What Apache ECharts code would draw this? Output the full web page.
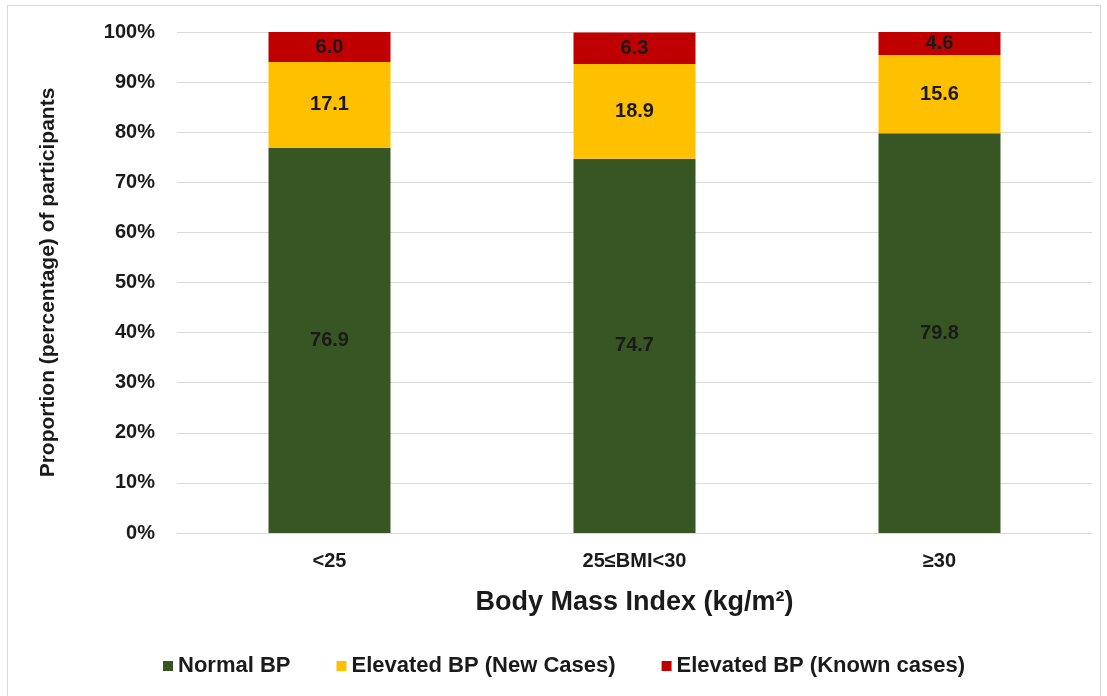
<!DOCTYPE html>
<html>
<head>
<meta charset="utf-8">
<script src="https://cdn.jsdelivr.net/npm/echarts@6/dist/echarts.min.js"></script>
<style>
  html, body { margin: 0; padding: 0; background: #fff; }
  #frame { position: absolute; left: 7px; top: 5px; width: 1094px; height: 700px; border: 1px solid #d9d9d9; box-sizing: border-box; }
  #chart { position: absolute; left: 0; top: 0; width: 1107px; height: 696px; }
</style>
</head>
<body>
<div id="frame"></div>
<div id="chart"></div>
<script>
// BMI groups (x axis)
var bmiGroups = ['<25', '25≤BMI<30', '≥30'];
// percentages per group
var normalBP = [76.9, 74.7, 79.8];
var newCases = [17.1, 18.9, 15.6];
var knownCases = [6.0, 6.3, 4.6];

var seriesNames = ['Normal BP', 'Elevated BP (New Cases)', 'Elevated BP (Known cases)'];

var myChart = echarts.init(document.getElementById('chart'));

function makeSeries(name, data, color) {
    return {
        name: name,
        type: 'bar',
        stack: 'bp',
        barWidth: '40%',
        data: data,
        itemStyle: { color: color },
        label: {
            show: true,
            position: 'inside',
            color: '#1a1a1a',
            fontFamily: 'Liberation Sans, Arial, sans-serif',
            fontWeight: 'bold',
            fontSize: 20,
            formatter: function (p) { return p.value.toFixed(1); }
        }
    };
}

var option = {
    animation: false,
    textStyle: { fontFamily: 'Liberation Sans, Arial, sans-serif' },
    grid: { left: 177, right: 15, top: 32, bottom: 163 },
    legend: {
        data: seriesNames,
        top: 650,
        left: 158,
        itemWidth: 10,
        itemHeight: 10,
        itemGap: 46,
        icon: 'rect',
        textStyle: { fontSize: 22, fontWeight: 'bold', color: '#1a1a1a' }
    },
    xAxis: {
        type: 'category',
        data: bmiGroups,
        name: 'Body Mass Index (kg/m²)',
        nameLocation: 'middle',
        nameGap: 56,
        nameTextStyle: { fontSize: 27, fontWeight: 'bold', color: '#1a1a1a' },
        axisLine: { lineStyle: { color: '#d9d9d9' } },
        axisTick: { show: false },
        axisLabel: { fontSize: 20, fontWeight: 'bold', color: '#1a1a1a', margin: 18 }
    },
    yAxis: {
        type: 'value',
        min: 0,
        max: 100,
        interval: 10,
        name: 'Proportion (percentage) of participants',
        nameLocation: 'middle',
        nameGap: 118,
        nameTextStyle: { fontSize: 21, fontWeight: 'bold', color: '#1a1a1a' },
        axisLine: { show: false },
        axisTick: { show: false },
        splitLine: { lineStyle: { color: '#d9d9d9' } },
        axisLabel: { fontSize: 20, fontWeight: 'bold', color: '#1a1a1a', margin: 22, formatter: '{value}%' }
    },
    series: [
        makeSeries(seriesNames[0], normalBP, '#375623'),
        makeSeries(seriesNames[1], newCases, '#FFC000'),
        makeSeries(seriesNames[2], knownCases, '#C00000')
    ]
};
myChart.setOption(option);
</script>
</body>
</html>
